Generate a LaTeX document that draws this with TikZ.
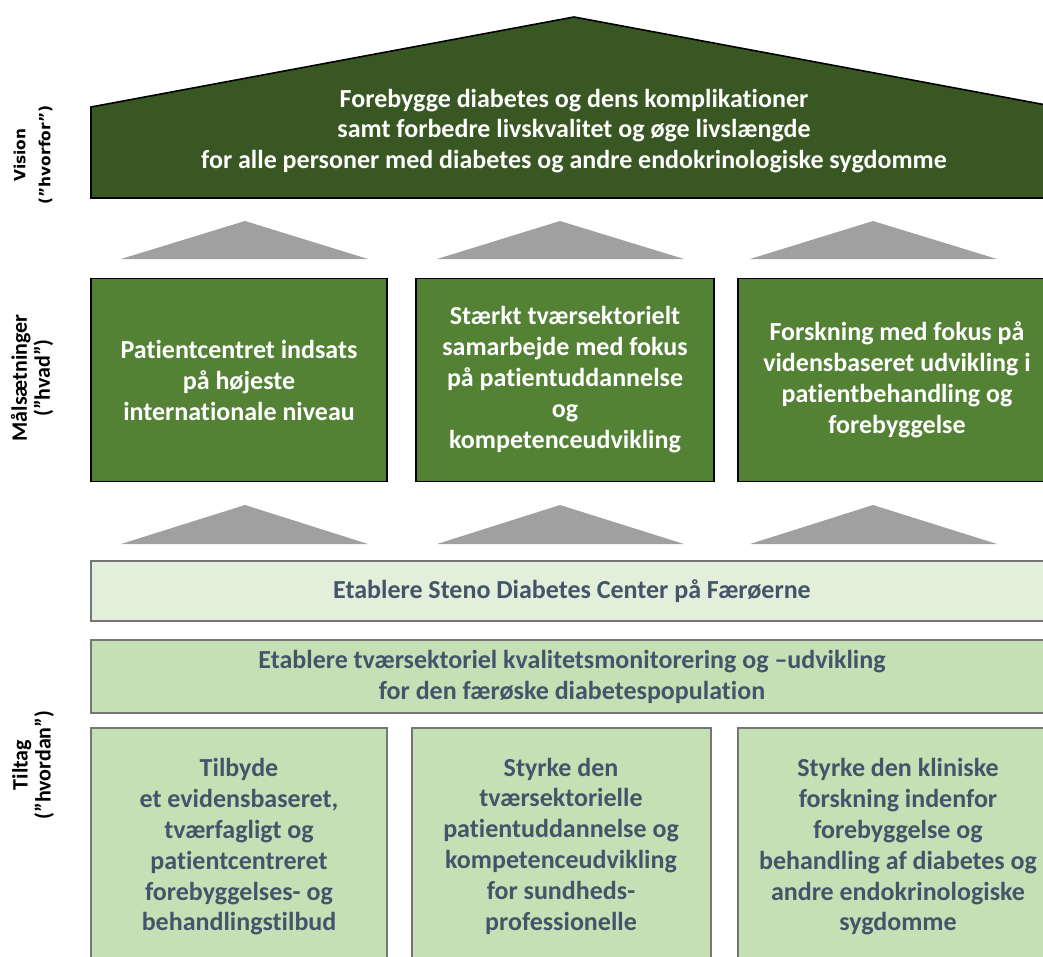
\documentclass[tikz,border=0pt]{standalone}
\usepackage{fontspec}
\setmainfont{Carlito}[Ligatures=NoCommon]
\newfontfamily\verd{DejaVu Sans}
\definecolor{roofgreen}{HTML}{385723}
\definecolor{goalgreen}{HTML}{548235}
\definecolor{pale}{HTML}{E2EFDA}
\definecolor{lightg}{HTML}{C5E0B4}
\definecolor{slate}{HTML}{44546A}
\definecolor{trigray}{HTML}{A0A0A0}
\definecolor{edgegray}{HTML}{767676}
\tikzset{
  roofshape/.style={fill=roofgreen, draw=black, line width=1.6pt, line join=miter},
  rooftext/.style={text=white, font=\bfseries\fontsize{26}{30.5}\selectfont, align=center, inner sep=0pt},
  goalbox/.style={fill=goalgreen, draw=black, line width=1.6pt, text=white,
    font=\bfseries\fontsize{26}{31}\selectfont, align=center, inner sep=0pt},
  palebox/.style={fill=pale, draw=edgegray, line width=1.8pt},
  lightbox/.style={fill=lightg, draw=edgegray, line width=1.8pt},
  slatetext/.style={text=slate, font=\bfseries\fontsize{26}{30.8}\selectfont, align=center, inner sep=0pt},
  tri/.style={fill=trigray},
  sidelabel/.style={rotate=90, font=\bfseries\fontsize{22}{23}\selectfont, align=center, inner sep=0pt},
  sidelabelv/.style={rotate=90, font=\verd\bfseries\fontsize{15.4}{25}\selectfont, align=center, inner sep=0pt}
}
\begin{document}
\begin{tikzpicture}[x=1pt,y=-1pt]
\clip (0,0) rectangle (1043,956);
\fill[white] (0,0) rectangle (1043,956);

% side labels
\node[sidelabelv] (lvision) at (33,155) {Vision\\(”hvorfor”)};
\node[sidelabel] (lmaal) at (32,378) {Målsætninger\\(”hvad”)};
\node[sidelabel] (ltiltag) at (33,765) {Tiltag\\(”hvordan”)};

% roof
\draw[roofshape] (91,198) -- (91,107) -- (574,17) -- (1057,107) -- (1057,198) -- cycle;
\node[rooftext] (vision) at (574,131) {Forebygge diabetes og dens komplikationer\\samt forbedre livskvalitet og øge livslængde\\for alle personer med diabetes og andre endokrinologiske sygdomme};

% triangles row 1
\fill[tri] (121,259) -- (245,221) -- (368,259) -- cycle;
\fill[tri] (437,259) -- (560,221) -- (684,259) -- cycle;
\fill[tri] (750,259) -- (873,221) -- (997,259) -- cycle;

% goal boxes
\node[goalbox, minimum width=296, minimum height=203] (g1) at (239,380) {Patientcentret indsats\\på højeste\\internationale niveau};
\node[goalbox, minimum width=298, minimum height=203] (g2) at (565,380) {Stærkt tværsektorielt\\samarbejde med fokus\\på patientuddannelse\\og\\kompetenceudvikling};
\node[goalbox, minimum width=318, minimum height=203] (g3) at (897,380) {Forskning med fokus på\\vidensbaseret udvikling i\\patientbehandling og\\forebyggelse};

% triangles row 2
\fill[tri] (121,544) -- (245,505) -- (368,544) -- cycle;
\fill[tri] (437,544) -- (560,505) -- (684,544) -- cycle;
\fill[tri] (750,544) -- (873,505) -- (997,544) -- cycle;

% action bars
\draw[palebox] (91,561) rectangle (1060,621);
\node[slatetext] (steno) at (572,591) {Etablere Steno Diabetes Center på Færøerne};
\draw[lightbox] (91,640) rectangle (1060,713);
\node[slatetext] (kval) at (572,677) {Etablere tværsektoriel kvalitetsmonitorering og –udvikling\\for den færøske diabetespopulation};

% bottom boxes
\draw[lightbox] (91,728) rectangle (387,980);
\draw[lightbox] (412,728) rectangle (711,980);
\draw[lightbox] (738,728) rectangle (1060,980);
\node[slatetext] (b1) at (239,847) {Tilbyde\\et evidensbaseret,\\tværfagligt og\\patientcentreret\\forebyggelses- og\\behandlingstilbud};
\node[slatetext] (b2) at (561,846) {Styrke den\\tværsektorielle\\patientuddannelse og\\kompetenceudvikling\\for sundheds-\\professionelle};
\node[slatetext] (b3) at (898,847) {Styrke den kliniske\\forskning indenfor\\forebyggelse og\\behandling af diabetes og\\andre endokrinologiske\\sygdomme};
\end{tikzpicture}
\end{document}
